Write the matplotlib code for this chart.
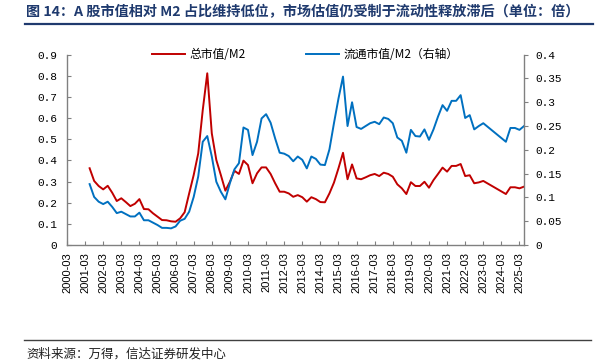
import matplotlib
matplotlib.use("Agg")
import matplotlib.pyplot as plt
from matplotlib.lines import Line2D
import pandas as pd

# ---- data ----
periods = list(pd.period_range("2001Q2", "2023Q1", freq="Q")) + list(pd.period_range("2024Q2", "2025Q2", freq="Q"))
dates = [f"{p.year}-{p.quarter*3:02d}" for p in periods]

total_mv_m2 = [0.363, 0.303, 0.279, 0.263, 0.280, 0.247, 0.208, 0.221, 0.203, 0.184,
               0.195, 0.217, 0.170, 0.169, 0.150, 0.134, 0.118, 0.117, 0.112, 0.110,
               0.126, 0.155, 0.244, 0.331, 0.433, 0.638, 0.812, 0.528, 0.402, 0.331,
               0.257, 0.299, 0.351, 0.336, 0.399, 0.378, 0.292, 0.339, 0.367, 0.367,
               0.336, 0.292, 0.252, 0.252, 0.244, 0.228, 0.236, 0.226, 0.205, 0.226,
               0.217, 0.203, 0.202, 0.244, 0.295, 0.363, 0.436, 0.311, 0.381, 0.315,
               0.311, 0.320, 0.330, 0.336, 0.326, 0.342, 0.336, 0.323, 0.287, 0.268,
               0.241, 0.297, 0.279, 0.279, 0.299, 0.271, 0.307, 0.336, 0.366, 0.347,
               0.374, 0.374, 0.383, 0.326, 0.330, 0.292, 0.296, 0.303,
               0.241, 0.273, 0.273, 0.268, 0.276]

float_mv_m2 = [0.128, 0.101, 0.091, 0.086, 0.091, 0.080, 0.067, 0.070, 0.065, 0.060,
               0.060, 0.068, 0.052, 0.052, 0.047, 0.042, 0.036, 0.036, 0.035, 0.039,
               0.051, 0.055, 0.070, 0.101, 0.144, 0.217, 0.229, 0.186, 0.133, 0.112,
               0.096, 0.130, 0.159, 0.172, 0.247, 0.242, 0.189, 0.217, 0.266, 0.275,
               0.257, 0.224, 0.194, 0.192, 0.187, 0.176, 0.186, 0.179, 0.161, 0.186,
               0.181, 0.169, 0.168, 0.201, 0.256, 0.308, 0.354, 0.250, 0.300, 0.248,
               0.244, 0.250, 0.256, 0.259, 0.254, 0.268, 0.265, 0.256, 0.226, 0.219,
               0.194, 0.242, 0.229, 0.228, 0.243, 0.221, 0.243, 0.270, 0.294, 0.282,
               0.303, 0.303, 0.315, 0.267, 0.273, 0.243, 0.250, 0.256,
               0.217, 0.246, 0.246, 0.242, 0.250]

tick_labels = [f"{y}-03" for y in range(2000, 2026)]
left_ticks = [0, 0.1, 0.2, 0.3, 0.4, 0.5, 0.6, 0.7, 0.8, 0.9]
right_ticks = [0, 0.05, 0.1, 0.15, 0.2, 0.25, 0.3, 0.35, 0.4]

title = "图 14：A 股市值相对 M2 占比维持低位，市场估值仍受制于流动性释放滞后（单位：倍）"
label_total = "总市值/M2"
label_float = "流通市值/M2（右轴）"
source = "资料来源：万得，信达证券研发中心"

# ---- positions from dates (quarter index since 2000-03) ----
def qidx(s):
    y, m = s.split("-")
    return (int(y) - 2000) * 4 + (int(m) - 3) // 3

x = [qidx(d) for d in dates]
tick_pos = [qidx(t) for t in tick_labels]

cjk = ["Noto Sans CJK SC", "DejaVu Sans"]
RED = "#C00000"
BLUE = "#0070C0"
NAVY = "#1F3A6E"
GRAY = "#808080"

fig = plt.figure(figsize=(5.98, 3.62), dpi=100)
W, H = 598, 362
ax = fig.add_axes([67 / W, 1 - 245 / H, (524 - 67) / W, (245 - 54.7) / H])
ax2 = ax.twinx()

ax.plot(x, total_mv_m2, color=RED, lw=1.4, solid_joinstyle="round")
ax2.plot(x, float_mv_m2, color=BLUE, lw=1.4, solid_joinstyle="round")

ax.set_xlim(0, 101)
ax.set_ylim(0, 0.9)
ax2.set_ylim(0, 0.4)

ax.set_xticks(tick_pos)
ax.set_xticklabels(tick_labels, rotation=90, fontsize=8, family="Liberation Sans")
ax.set_yticks(left_ticks)
ax.set_yticklabels([f"{v:g}" for v in left_ticks], fontsize=8, family="Liberation Mono")
ax2.set_yticks(right_ticks)
ax2.set_yticklabels([f"{v:g}" for v in right_ticks], fontsize=8, family="Liberation Mono")

for a in (ax, ax2):
    a.spines["top"].set_visible(False)
    for s in ("left", "right", "bottom"):
        a.spines[s].set_color(GRAY)
        a.spines[s].set_linewidth(1.0)
ax.spines["right"].set_visible(False)
ax2.spines["left"].set_visible(False)
ax2.spines["bottom"].set_visible(False)

ax.tick_params(axis="x", direction="in", length=3, width=0.8, color=GRAY, pad=5)
ax.tick_params(axis="y", direction="in", length=3, width=0.8, color=GRAY, pad=7)
ax2.tick_params(axis="y", direction="out", length=3, width=0.8, color=GRAY, pad=5)

# legends
h1 = Line2D([], [], color=RED, lw=1.4)
h2 = Line2D([], [], color=BLUE, lw=1.4)
fig.legend([h1], [label_total], loc="center left",
           bbox_to_anchor=(152 / W, 1 - 55 / H), frameon=False,
           prop={"family": cjk, "size": 8.5}, handlelength=2.8,
           handletextpad=0.4, borderpad=0, borderaxespad=0)
fig.legend([h2], [label_float], loc="center left",
           bbox_to_anchor=(306 / W, 1 - 55 / H), frameon=False,
           prop={"family": cjk, "size": 8.5}, handlelength=2.8,
           handletextpad=0.4, borderpad=0, borderaxespad=0)

# title and rules
fig.text(26 / W, 1 - 12 / H, title, ha="left", va="center", fontsize=10.2,
         fontweight="bold", color=NAVY, family=cjk)
fig.add_artist(Line2D([25 / W, 593 / W], [1 - 24 / H, 1 - 24 / H], color=NAVY, lw=1.6))
fig.add_artist(Line2D([24 / W, 591 / W], [1 - 340 / H, 1 - 340 / H], color="#404040", lw=1.0))
fig.text(26 / W, 1 - 354 / H, source, ha="left", va="center", fontsize=9,
         color="#222222", family=cjk)

fig.savefig("out.png", dpi=100)
